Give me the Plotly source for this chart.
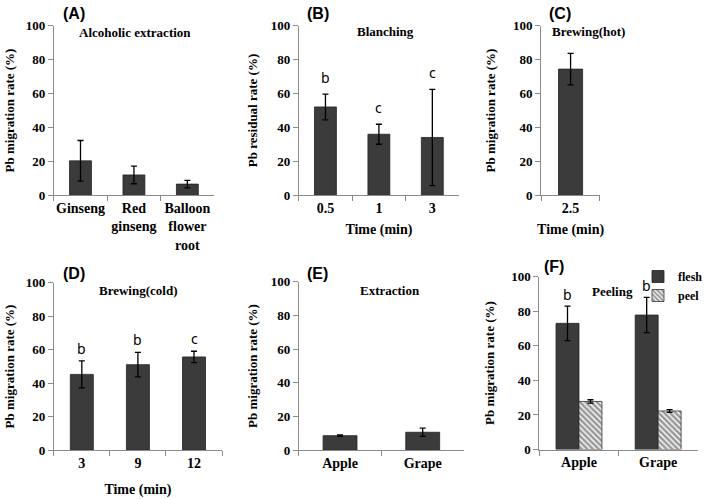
import plotly.graph_objects as go

W, H = 708, 499

# ---------------- data ----------------
a_cats = ["Ginseng", "Red<br>ginseng", "Balloon<br>flower<br>root"]
a_vals = [20.3, 12.0, 6.6]
a_err = [12.0, 5.2, 2.2]

b_cats = ["0.5", "1", "3"]
b_vals = [52.1, 36.0, 34.1]
b_err = [7.6, 5.9, 28.4]
b_letters = ["b", "c", "c"]

c_cats = ["2.5"]
c_vals = [74.4]
c_err = [9.3]

d_cats = ["3", "9", "12"]
d_vals = [45.3, 51.1, 55.7]
d_err = [8.0, 7.3, 3.4]
d_letters = ["b", "b", "c"]

e_cats = ["Apple", "Grape"]
e_vals = [8.7, 10.7]
e_err = [0.4, 2.4]

f_cats = ["Apple", "Grape"]
f_flesh = [73.0, 77.8]
f_flesh_err = [10.0, 10.2]
f_peel = [27.8, 22.3]
f_peel_err = [1.0, 0.8]
f_letters = ["b", "b"]

panel_labels = ["(A)", "(B)", "(C)", "(D)", "(E)", "(F)"]
panel_titles = ["Alcoholic extraction", "Blanching", "Brewing(hot)",
                "Brewing(cold)", "Extraction", "Peeling"]
y_titles = ["Pb migration rate (%)", "Pb residual rate (%)", "Pb migration rate (%)",
            "Pb migration rate (%)", "Pb migration rate (%)", "Pb migration rate (%)"]
x_titles = ["", "Time (min)", "Time (min)", "Time (min)", "", ""]

# ---------------- layout helpers ----------------
def px(x):
    return x / W

def py(y):
    return 1 - y / H

# pixel boxes (x0, x1, ytop, ybottom) for each plot area
boxes = [
    (54, 215, 25.7, 195.3),
    (300, 461, 25.7, 195.3),
    (543.5, 602.5, 25.7, 195.3),
    (54, 223, 282.7, 450.3),
    (300, 466, 281.7, 450.3),
    (541.7, 700.7, 276.7, 449.5),
]
label_pos = [(74, 13), (319.5, 13), (562, 13), (74.5, 273), (319, 273), (556.5, 266)]
title_pos = [(135.3, 33), (386.7, 32), (591, 32), (138.3, 290), (391.7, 290.5), (615, 291)]
y_standoff = [8, 10, 14, 8, 10, 13]
x_standoff = [6, 9, 9, 14, 6, 6]

SERIF = "Liberation Serif, Times New Roman, serif"
SANS = "Liberation Sans, Arial, sans-serif"
LETTER_FONT = "Noto Sans, DejaVu Sans, sans-serif"
BAR = "#3b3b3b"
EDGE = "#222222"
AXIS = "#8a8a8a"

fig = go.Figure()

def err(arr):
    return dict(type="data", array=arr, visible=True, color="black", thickness=1.3, width=3)

series = [
    (a_cats, a_vals, a_err),
    (b_cats, b_vals, b_err),
    (c_cats, c_vals, c_err),
    (d_cats, d_vals, d_err),
    (e_cats, e_vals, e_err),
]
for i, (cats, vals, errs) in enumerate(series):
    sfx = "" if i == 0 else str(i + 1)
    fig.add_trace(go.Bar(
        x=cats, y=vals, error_y=err(errs), width=0.41,
        marker=dict(color=BAR, line=dict(color=EDGE, width=0.8)),
        xaxis="x" + sfx, yaxis="y" + sfx, showlegend=False,
    ))

fig.add_trace(go.Bar(
    x=f_cats, y=f_flesh, error_y=err(f_flesh_err), name="flesh",
    marker=dict(color=BAR, line=dict(color=EDGE, width=0.8)),
    xaxis="x6", yaxis="y6", showlegend=True,
))
fig.add_trace(go.Bar(
    x=f_cats, y=f_peel, error_y=err(f_peel_err), name="peel",
    marker=dict(color="white", line=dict(color="#333333", width=0.8),
                pattern=dict(shape="\\", fgcolor="#333333", bgcolor="white",
                             size=4, solidity=0.65)),
    xaxis="x6", yaxis="y6", showlegend=True,
))

layout = dict(
    width=W, height=H,
    margin=dict(l=0, r=0, t=0, b=0),
    paper_bgcolor="white", plot_bgcolor="white",
    barmode="group", bargap=0.42, bargroupgap=0,
    legend=dict(x=px(641), y=py(262), xanchor="left", yanchor="top",
                font=dict(family=SERIF, size=12, color="black", weight="bold"),
                bgcolor="rgba(0,0,0,0)", itemwidth=30, tracegroupgap=0),
    annotations=[],
)

ncats = [len(a_cats), len(b_cats), len(c_cats), len(d_cats), len(e_cats), len(f_cats)]
for i, (x0, x1, yt, yb) in enumerate(boxes):
    sfx = "" if i == 0 else str(i + 1)
    layout["xaxis" + sfx] = dict(
        domain=[px(x0), px(x1)], anchor="y" + sfx, type="category",
        range=[-0.5, ncats[i] - 0.5], tickangle=0,
        showline=True, linecolor=AXIS, linewidth=1,
        ticks="outside", tickson="boundaries", ticklen=5, tickcolor=AXIS,
        showgrid=False, zeroline=False,
        tickfont=dict(family=SERIF, size=14, color="black", weight="bold"),
        title=dict(text=x_titles[i], standoff=x_standoff[i],
                   font=dict(family=SERIF, size=14, color="black", weight="bold")),
        automargin=False, fixedrange=True,
    )
    layout["yaxis" + sfx] = dict(
        domain=[py(yb), py(yt)], anchor="x" + sfx,
        range=[0, 100], dtick=20, tick0=0,
        showline=True, linecolor=AXIS, linewidth=1,
        ticks="outside", ticklen=5, tickcolor=AXIS,
        showgrid=False, zeroline=False,
        tickfont=dict(family=SERIF, size=13, color="black", weight="bold"),
        title=dict(text=y_titles[i], standoff=y_standoff[i],
                   font=dict(family=SERIF, size=13, color="black", weight="bold")),
        automargin=False, fixedrange=True,
    )
    layout["annotations"].append(dict(
        text=panel_labels[i], x=px(label_pos[i][0]), y=py(label_pos[i][1]),
        xref="paper", yref="paper", showarrow=False, xanchor="center", yanchor="middle",
        font=dict(family=SANS, size=16, color="black", weight="bold"),
    ))
    layout["annotations"].append(dict(
        text=panel_titles[i], x=px(title_pos[i][0]), y=py(title_pos[i][1]),
        xref="paper", yref="paper", showarrow=False, xanchor="center", yanchor="middle",
        font=dict(family=SERIF, size=13, color="black", weight="bold"),
    ))

def letter_annots(cats, vals, errs, letters, ax, shift, xoff=0.0):
    out = []
    for j, (v, e, t) in enumerate(zip(vals, errs, letters)):
        out.append(dict(
            text=t, x=j + xoff, y=v + e, xref=ax, yref=ax.replace("x", "y"),
            showarrow=False, xanchor="center", yanchor="bottom", yshift=shift,
            font=dict(family=LETTER_FONT, size=14, color="black"),
        ))
    return out

layout["annotations"] += letter_annots(b_cats, b_vals, b_err, b_letters, "x2", 5)
layout["annotations"] += letter_annots(d_cats, d_vals, d_err, d_letters, "x4", 1)
layout["annotations"] += letter_annots(f_cats, f_flesh, f_flesh_err, f_letters, "x6", 0,
                                       xoff=-(1 - 0.42) / 4)

fig.update_layout(**layout)
fig.write_html("out.html", config={"displayModeBar": False},
               post_script="document.body.style.margin='0px';")
